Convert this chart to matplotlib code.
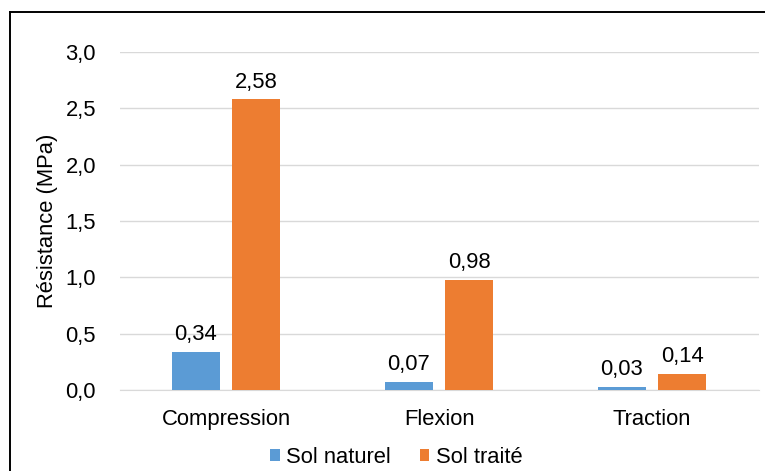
import numpy as np
import matplotlib.pyplot as plt
from matplotlib.lines import Line2D

plt.rcParams['font.family'] = ['Liberation Sans', 'DejaVu Sans']

categories = ['Compression', 'Flexion', 'Traction']
sol_naturel = [0.34, 0.07, 0.03]
sol_traite = [2.58, 0.98, 0.14]
series_names = ['Sol naturel', 'Sol traité']
yticks = [0.0, 0.5, 1.0, 1.5, 2.0, 2.5, 3.0]

blue = '#5B9BD5'
orange = '#ED7D31'
fs = 15.8

def fr(v, nd):
    return f"{v:.{nd}f}".replace('.', ',')

fig = plt.figure(figsize=(7.65, 4.71), dpi=100)
ax = fig.add_axes([119.5/765, (471-390)/471, (758.5-119.5)/765, (390-52)/471])

x = np.arange(len(categories))
w = 0.225
off = 0.143
b1 = ax.bar(x - off, sol_naturel, w, color=blue, label=series_names[0], zorder=3)
b2 = ax.bar(x + off, sol_traite, w, color=orange, label=series_names[1], zorder=3)

for bars, vals in ((b1, sol_naturel), (b2, sol_traite)):
    for r, v in zip(bars, vals):
        ax.text(r.get_x() + r.get_width()/2, v + 0.06, fr(v, 2), ha='center', va='bottom',
                fontsize=fs, color='#000000')

ax.set_xlim(-0.5, 2.5)
ax.set_ylim(0, 3.0)
ax.set_yticks(yticks)
ax.set_yticklabels([fr(t, 1) for t in yticks])
ax.set_xticks(x)
ax.set_xticklabels(categories)
ax.tick_params(axis='both', length=0, labelsize=fs, colors='#000000')
ax.tick_params(axis='y', pad=17)
ax.tick_params(axis='x', pad=14)
ax.grid(axis='y', color='#D9D9D9', linewidth=1, zorder=0)
for s in ['top', 'right', 'left']:
    ax.spines[s].set_visible(False)
ax.spines['bottom'].set_color('#D9D9D9')
ax.set_ylabel('Résistance (MPa)', fontsize=fs, labelpad=5)

ax.legend(loc='center', bbox_to_anchor=(0.433, -0.2), ncol=2, frameon=False,
          fontsize=fs, handlelength=0.45, handleheight=0.45, handletextpad=0.3,
          columnspacing=1.3)

# cadre : seulement haut et gauche visibles
fig.lines.append(Line2D([10/765, 1], [1 - 12/471, 1 - 12/471], transform=fig.transFigure,
                        color='#000000', linewidth=1.4))
fig.lines.append(Line2D([10/765, 10/765], [0, 1 - 12/471], transform=fig.transFigure,
                        color='#000000', linewidth=1.4))

fig.savefig('out.png', dpi=100)
